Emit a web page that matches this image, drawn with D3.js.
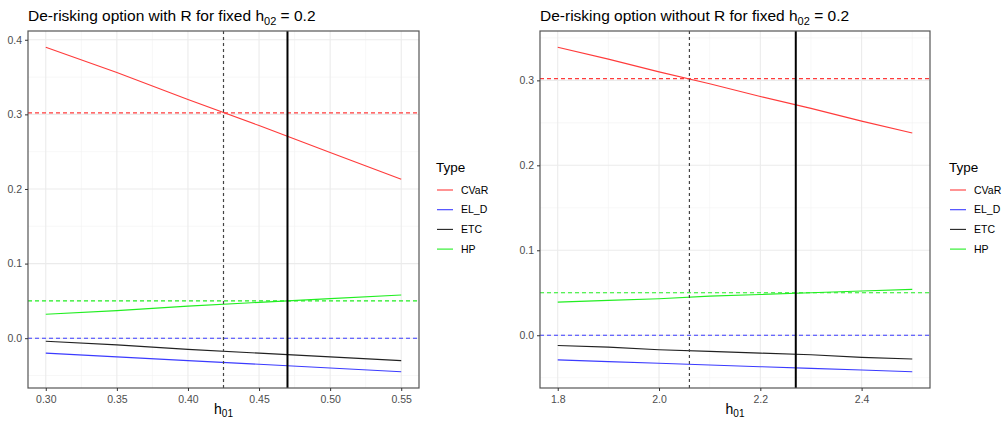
<!DOCTYPE html>
<html>
<head>
<meta charset="utf-8">
<script src="https://cdn.jsdelivr.net/npm/d3@7"></script>
<style>
  body { margin: 0; background: #fff; }
  text { font-family: "Liberation Sans", Arial, sans-serif; }
</style>
</head>
<body>
<div id="chart"></div>
<script>
// series names and colours
var types = ['CVaR', 'EL_D', 'ETC', 'HP'];
var typeColors = ['#ff3b3b', '#3b3bff', '#222222', '#22ee22'];

// panel 1: with R
var h01With = [0.30, 0.35, 0.40, 0.45, 0.50, 0.55];
var cvarWith = [0.390, 0.356, 0.320, 0.285, 0.249, 0.213];
var eldWith = [-0.020, -0.025, -0.030, -0.035, -0.040, -0.045];
var etcWith = [-0.004, -0.009, -0.015, -0.020, -0.025, -0.030];
var hpWith = [0.032, 0.037, 0.043, 0.048, 0.053, 0.058];
var xTicksWith = [0.30, 0.35, 0.40, 0.45, 0.50, 0.55];
var yTicksWith = [0.0, 0.1, 0.2, 0.3, 0.4];

// panel 2: without R
var h01Without = [1.8, 1.9, 2.0, 2.1, 2.2, 2.3, 2.4, 2.5];
var cvarWithout = [0.339, 0.325, 0.310, 0.296, 0.281, 0.267, 0.252, 0.238];
var eldWithout = [-0.029, -0.031, -0.033, -0.035, -0.037, -0.039, -0.041, -0.043];
var etcWithout = [-0.012, -0.014, -0.017, -0.019, -0.021, -0.023, -0.026, -0.028];
var hpWithout = [0.039, 0.041, 0.043, 0.046, 0.048, 0.050, 0.052, 0.054];
var xTicksWithout = [1.8, 2.0, 2.2, 2.4];
var yTicksWithout = [0.0, 0.1, 0.2, 0.3];

// reference lines (CVaR, EL_D, HP thresholds) and chosen h01 values
var hLines = [0.302, 0.0, 0.05];
var hLineColors = ['#ff3b3b', '#3b3bff', '#22ee22'];
var vLinesWith = [0.425, 0.47];
var vLinesWithout = [2.06, 2.27];

var width = 1006, height = 425;
var svg = d3.select('#chart').append('svg')
  .attr('width', width)
  .attr('height', height);

function drawPanel(opt) {
  var g = svg.append('g');
  var xExt = d3.extent(opt.x);
  var allY = d3.merge(opt.series);
  var yExt = d3.extent(allY);
  var xPad = (xExt[1] - xExt[0]) * 0.05, yPad = (yExt[1] - yExt[0]) * 0.05;

  var x = d3.scaleLinear().domain([xExt[0] - xPad, xExt[1] + xPad]).range([opt.left, opt.right]);
  var y = d3.scaleLinear().domain([yExt[0] - yPad, yExt[1] + yPad]).range([opt.bottom, opt.top]);

  // minor grid
  var xStep = opt.xTicks[1] - opt.xTicks[0];
  var yStep = opt.yTicks[1] - opt.yTicks[0];
  var xMinor = d3.range(opt.xTicks[0] - xStep / 2, x.domain()[1], xStep).filter(function(v) { return v > x.domain()[0]; });
  var yMinor = d3.range(opt.yTicks[0] - yStep / 2, y.domain()[1], yStep).filter(function(v) { return v > y.domain()[0]; });

  g.selectAll('.xminor').data(xMinor).enter().append('line')
    .attr('x1', x).attr('x2', x).attr('y1', opt.top).attr('y2', opt.bottom)
    .attr('stroke', '#f2f2f2').attr('stroke-width', 0.6);
  g.selectAll('.yminor').data(yMinor).enter().append('line')
    .attr('y1', y).attr('y2', y).attr('x1', opt.left).attr('x2', opt.right)
    .attr('stroke', '#f2f2f2').attr('stroke-width', 0.6);
  g.selectAll('.xmajor').data(opt.xTicks).enter().append('line')
    .attr('x1', x).attr('x2', x).attr('y1', opt.top).attr('y2', opt.bottom)
    .attr('stroke', '#ebebeb').attr('stroke-width', 1.1);
  g.selectAll('.ymajor').data(opt.yTicks).enter().append('line')
    .attr('y1', y).attr('y2', y).attr('x1', opt.left).attr('x2', opt.right)
    .attr('stroke', '#ebebeb').attr('stroke-width', 1.1);

  // series lines
  var line = d3.line()
    .x(function(d, i) { return x(opt.x[i]); })
    .y(function(d) { return y(d); });
  opt.series.forEach(function(s, i) {
    g.append('path')
      .attr('d', line(s))
      .attr('fill', 'none')
      .attr('stroke', typeColors[i])
      .attr('stroke-width', 1.1);
  });

  // horizontal dashed thresholds
  hLines.forEach(function(v, i) {
    g.append('line')
      .attr('x1', opt.left).attr('x2', opt.right)
      .attr('y1', y(v)).attr('y2', y(v))
      .attr('stroke', hLineColors[i])
      .attr('stroke-width', 1.1)
      .attr('stroke-dasharray', '4,3');
  });

  // vertical lines
  g.append('line')
    .attr('x1', x(opt.vLines[0])).attr('x2', x(opt.vLines[0]))
    .attr('y1', opt.top).attr('y2', opt.bottom)
    .attr('stroke', '#444').attr('stroke-width', 1.2)
    .attr('stroke-dasharray', '3,3');
  g.append('line')
    .attr('x1', x(opt.vLines[1])).attr('x2', x(opt.vLines[1]))
    .attr('y1', opt.top).attr('y2', opt.bottom)
    .attr('stroke', '#000').attr('stroke-width', 2);

  // panel border
  g.append('rect')
    .attr('x', opt.left).attr('y', opt.top)
    .attr('width', opt.right - opt.left).attr('height', opt.bottom - opt.top)
    .attr('fill', 'none').attr('stroke', '#555').attr('stroke-width', 1.2);

  // axes
  var xAxis = d3.axisBottom(x).tickValues(opt.xTicks).tickFormat(d3.format(opt.xFmt)).tickSize(3).tickPadding(5);
  var yAxis = d3.axisLeft(y).tickValues(opt.yTicks).tickFormat(d3.format('.1f')).tickSize(3).tickPadding(3);
  var gx = g.append('g').attr('transform', 'translate(0,' + opt.bottom + ')').call(xAxis);
  var gy = g.append('g').attr('transform', 'translate(' + opt.left + ',0)').call(yAxis);
  [gx, gy].forEach(function(a) {
    a.select('.domain').remove();
    a.selectAll('line').attr('stroke', '#333');
    a.selectAll('text').attr('fill', '#4d4d4d').style('font-size', '10.5px');
  });

  // title
  var t = g.append('text')
    .attr('x', opt.left)
    .attr('y', 21)
    .attr('fill', '#000')
    .style('font-size', '15.5px');
  t.append('tspan').text(opt.title);
  t.append('tspan').attr('dy', 4).style('font-size', '11px').text('02');
  t.append('tspan').attr('dy', -4).text(' = 0.2');

  // x axis title
  var xt = g.append('text')
    .attr('x', (opt.left + opt.right) / 2)
    .attr('y', 414)
    .attr('text-anchor', 'middle')
    .attr('fill', '#000')
    .style('font-size', '14px');
  xt.append('tspan').text('h');
  xt.append('tspan').attr('dy', 3).style('font-size', '10px').text('01');

  // legend
  var lg = g.append('g').attr('transform', 'translate(' + opt.legendX + ',0)');
  lg.append('text').attr('x', 0).attr('y', 172).style('font-size', '13.5px').attr('fill', '#000').text('Type');
  var item = lg.selectAll('.item').data(types).enter().append('g')
    .attr('transform', function(d, i) { return 'translate(0,' + (190 + i * 19.7) + ')'; });
  item.append('line')
    .attr('x1', 1).attr('x2', 17)
    .attr('stroke', function(d, i) { return typeColors[i]; })
    .attr('stroke-width', 1.1);
  item.append('text')
    .attr('x', 25).attr('dy', '0.35em')
    .style('font-size', '10.5px').attr('fill', '#000')
    .text(function(d) { return d; });
}

drawPanel({
  x: h01With,
  series: [cvarWith, eldWith, etcWith, hpWith],
  xTicks: xTicksWith, yTicks: yTicksWith, xFmt: '.2f',
  vLines: vLinesWith,
  left: 28, right: 419, top: 31, bottom: 388,
  legendX: 436,
  title: 'De-risking option with R for fixed h'
});

drawPanel({
  x: h01Without,
  series: [cvarWithout, eldWithout, etcWithout, hpWithout],
  xTicks: xTicksWithout, yTicks: yTicksWithout, xFmt: '.1f',
  vLines: vLinesWithout,
  left: 540, right: 930, top: 31, bottom: 388,
  legendX: 949,
  title: 'De-risking option without R for fixed h'
});
</script>
</body>
</html>
